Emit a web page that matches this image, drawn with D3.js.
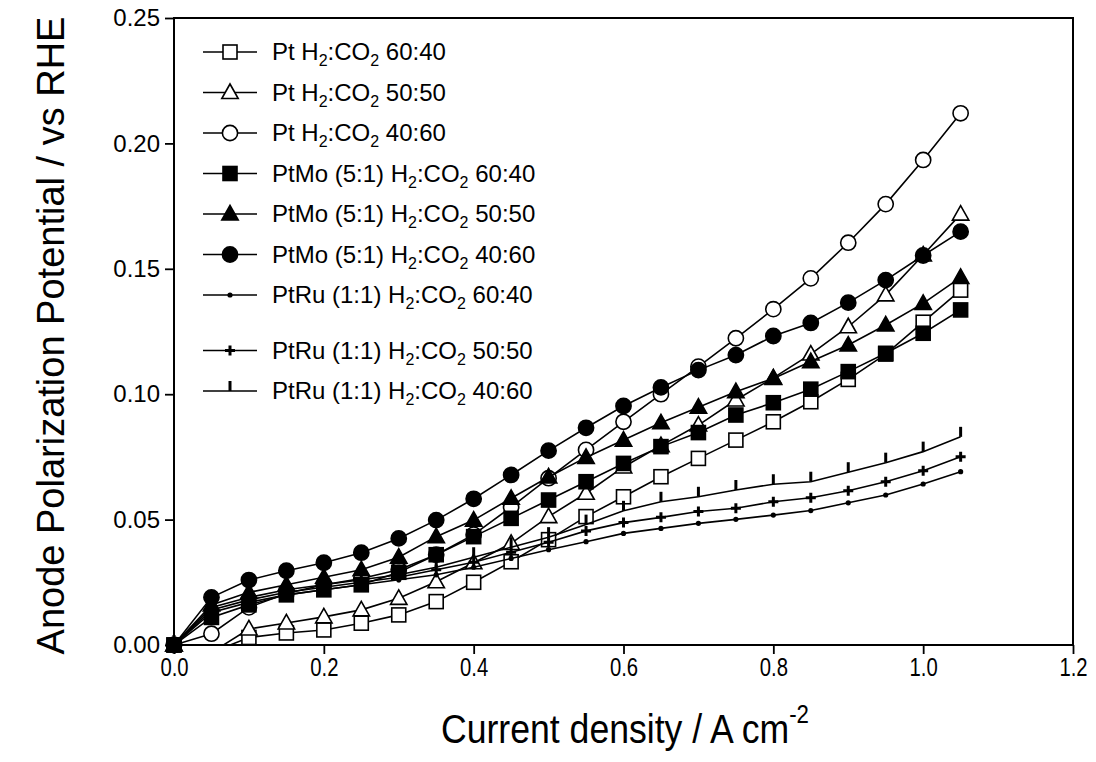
<!DOCTYPE html>
<html>
<head>
<meta charset="utf-8">
<script src="https://cdn.jsdelivr.net/npm/d3@7"></script>
<style>
  html, body { margin: 0; padding: 0; background: #fff; }
  svg text { font-family: "Liberation Sans", Arial, Helvetica, sans-serif; fill: #000; }
</style>
</head>
<body>
<svg id="chart" width="1096" height="762"></svg>
<script>
// current density (A cm-2)
const currentDensity = [0, 0.05, 0.1, 0.15, 0.2, 0.25, 0.3, 0.35, 0.4, 0.45, 0.5, 0.55,
                        0.6, 0.65, 0.7, 0.75, 0.8, 0.85, 0.9, 0.95, 1.0, 1.05];

// anode polarization potential (V vs RHE)
const pt6040   = [0, -0.003, 0.003, 0.0048, 0.006, 0.0087, 0.012, 0.0173, 0.025, 0.0332, 0.042, 0.0512,
                  0.0591, 0.0671, 0.0744, 0.0817, 0.089, 0.097, 0.1059, 0.116, 0.1287, 0.1415];
const pt5050   = [0, -0.003, 0.0064, 0.0088, 0.0112, 0.014, 0.0186, 0.0252, 0.0328, 0.0405, 0.0512, 0.0605,
                  0.071, 0.0795, 0.0877, 0.0977, 0.1065, 0.116, 0.1269, 0.1396, 0.1555, 0.1718];
const pt4060   = [0, 0.0045, 0.015, 0.0205, 0.024, 0.0265, 0.030, 0.036, 0.044, 0.055, 0.0665, 0.0778,
                  0.089, 0.1, 0.111, 0.1223, 0.1339, 0.1462, 0.1604, 0.1758, 0.1934, 0.212];
const ptMo6040 = [0, 0.011, 0.016, 0.020, 0.022, 0.024, 0.029, 0.036, 0.0432, 0.0505, 0.0578, 0.0651,
                  0.0724, 0.0791, 0.0847, 0.0917, 0.0966, 0.102, 0.109, 0.1163, 0.1243, 0.1336];
const ptMo5050 = [0, 0.016, 0.021, 0.024, 0.027, 0.030, 0.035, 0.0432, 0.0498, 0.0585, 0.067, 0.0748,
                  0.0817, 0.0886, 0.0948, 0.101, 0.1063, 0.113, 0.1196, 0.1276, 0.1362, 0.1466];
const ptMo4060 = [0, 0.019, 0.0259, 0.0296, 0.0328, 0.0368, 0.0425, 0.0498, 0.0583, 0.0678, 0.0775, 0.0866,
                  0.0953, 0.1027, 0.1096, 0.1156, 0.1232, 0.1284, 0.1365, 0.1455, 0.1553, 0.1648];
const ptRu6040 = [0, 0.013, 0.017, 0.020, 0.022, 0.024, 0.026, 0.028, 0.031, 0.0345, 0.038, 0.0412,
                  0.0445, 0.0465, 0.0485, 0.0501, 0.0518, 0.0536, 0.0567, 0.0598, 0.0642, 0.0691];
const ptRu5050 = [0, 0.014, 0.018, 0.021, 0.023, 0.025, 0.027, 0.030, 0.033, 0.037, 0.041, 0.0455,
                  0.0488, 0.0509, 0.0532, 0.0545, 0.0571, 0.0587, 0.0615, 0.0651, 0.0695, 0.0751];
const ptRu4060 = [0, 0.015, 0.019, 0.022, 0.024, 0.026, 0.028, 0.031, 0.035, 0.039, 0.043, 0.048,
                  0.0535, 0.0571, 0.0591, 0.0618, 0.0641, 0.0651, 0.0689, 0.0727, 0.0771, 0.083];

const catalysts = ["Pt", "Pt", "Pt", "PtMo (5:1)", "PtMo (5:1)", "PtMo (5:1)", "PtRu (1:1)", "PtRu (1:1)", "PtRu (1:1)"];
const ratios = ["60:40", "50:50", "40:60", "60:40", "50:50", "40:60", "60:40", "50:50", "40:60"];
const symbols = ["openSquare", "openTriangle", "openCircle", "square", "triangle", "circle", "dot", "plus", "tick"];
const seriesValues = [pt6040, pt5050, pt4060, ptMo6040, ptMo5050, ptMo4060, ptRu6040, ptRu5050, ptRu4060];

const xTicks = [0, 0.2, 0.4, 0.6, 0.8, 1.0, 1.2];
const yTicks = [0, 0.05, 0.10, 0.15, 0.20, 0.25];

const svg = d3.select("#chart");
const plot = { left: 174, right: 1073, top: 18, bottom: 645 };

const x = d3.scaleLinear().domain([0, 1.2]).range([plot.left, plot.right]);
const y = d3.scaleLinear().domain([0, 0.25]).range([plot.bottom, plot.top]);

svg.append("defs").append("clipPath").attr("id", "plot-clip")
  .append("rect")
  .attr("x", plot.left).attr("y", plot.top)
  .attr("width", plot.right - plot.left).attr("height", plot.bottom - plot.top);

// draws one marker centred on (0,0)
function drawSymbol(g, kind) {
  const open = kind.startsWith("open");
  const fill = open ? "#fff" : "#000";
  if (kind === "openSquare" || kind === "square") {
    g.append("rect").attr("x", -7).attr("y", -7).attr("width", 14).attr("height", 14)
      .attr("fill", fill).attr("stroke", "#000").attr("stroke-width", 1.6);
  } else if (kind === "openTriangle" || kind === "triangle") {
    g.append("path").attr("d", "M0,-8.5L8.2,6L-8.2,6Z")
      .attr("fill", fill).attr("stroke", "#000").attr("stroke-width", 1.6).attr("stroke-linejoin", "miter");
  } else if (kind === "openCircle" || kind === "circle") {
    g.append("circle").attr("r", 7.6)
      .attr("fill", fill).attr("stroke", "#000").attr("stroke-width", 1.6);
  } else if (kind === "dot") {
    g.append("circle").attr("r", 2.6).attr("fill", "#000");
  } else if (kind === "plus") {
    g.append("path").attr("d", "M-5,0H5M0,-5V5")
      .attr("stroke", "#000").attr("stroke-width", 3);
  } else if (kind === "tick") {
    g.append("path").attr("d", "M0,0V-10")
      .attr("stroke", "#000").attr("stroke-width", 3);
  }
}

// axes
const xAxis = svg.append("g")
  .attr("transform", `translate(0,${plot.bottom})`)
  .call(d3.axisBottom(x).tickValues(xTicks).tickFormat(d3.format(".1f")).tickSize(9).tickSizeOuter(0));
xAxis.select(".domain").remove();
xAxis.selectAll(".tick line").attr("stroke", "#000").attr("stroke-width", 1.8);
xAxis.selectAll(".tick text")
  .attr("y", 0).attr("dy", null)
  .attr("transform", "translate(0,31) scale(0.78,1)")
  .style("font-size", "26px");

const yAxis = svg.append("g")
  .attr("transform", `translate(${plot.left},0)`)
  .call(d3.axisLeft(y).tickValues(yTicks).tickFormat(d3.format(".2f")).tickSize(9).tickSizeOuter(0));
yAxis.select(".domain").remove();
yAxis.selectAll(".tick line").attr("stroke", "#000").attr("stroke-width", 1.8);
yAxis.selectAll(".tick text")
  .attr("x", -14)
  .style("font-size", "24px");

// frame
svg.append("rect")
  .attr("x", plot.left).attr("y", plot.top)
  .attr("width", plot.right - plot.left).attr("height", plot.bottom - plot.top)
  .attr("fill", "none").attr("stroke", "#000").attr("stroke-width", 2);

// series
const line = d3.line().x(d => x(d[0])).y(d => y(d[1]));
const series = seriesValues.map((vals, i) => ({
  symbol: symbols[i],
  points: currentDensity.map((c, j) => [c, vals[j]])
}));

series.forEach(s => {
  const g = svg.append("g");
  g.append("path")
    .attr("d", line(s.points))
    .attr("clip-path", "url(#plot-clip)")
    .attr("fill", "none").attr("stroke", "#000").attr("stroke-width", 1.6);
  g.selectAll("g.marker")
    .data(s.points.filter(p => p[1] >= 0))
    .join("g")
    .attr("class", "marker")
    .attr("transform", p => `translate(${x(p[0])},${y(p[1])})`)
    .each(function() { drawSymbol(d3.select(this), s.symbol); });
});

// legend
const legend = svg.append("g");
catalysts.forEach((cat, i) => {
  const rowY = 52 + i * 40.5 + (i >= 7 ? 15 : 0);
  const row = legend.append("g").attr("transform", `translate(0,${rowY})`);
  row.append("line").attr("x1", 203).attr("x2", 257).attr("y1", 0).attr("y2", 0)
    .attr("stroke", "#000").attr("stroke-width", 1.6);
  drawSymbol(row.append("g").attr("transform", "translate(230,0)"), symbols[i]);
  const t = row.append("text").attr("x", 272).attr("y", 8).style("font-size", "24px");
  t.append("tspan").text(cat + " H");
  t.append("tspan").style("font-size", "16px").attr("dy", 6).text("2");
  t.append("tspan").attr("dy", -6).text(":CO");
  t.append("tspan").style("font-size", "16px").attr("dy", 6).text("2");
  t.append("tspan").attr("dy", -6).text(" " + ratios[i]);
});

// axis titles
svg.append("text")
  .attr("transform", `translate(64,${(plot.top + plot.bottom) / 2 + 4}) rotate(-90)`)
  .attr("text-anchor", "middle")
  .style("font-size", "38px")
  .text("Anode Polarization Potential / vs RHE");

const xt = svg.append("text")
  .attr("transform", "translate(625,743) scale(0.89,1)")
  .attr("text-anchor", "middle")
  .style("font-size", "40px");
xt.append("tspan").text("Current density / A cm");
xt.append("tspan").style("font-size", "25px").attr("dy", -20).text("-2");
</script>
</body>
</html>
